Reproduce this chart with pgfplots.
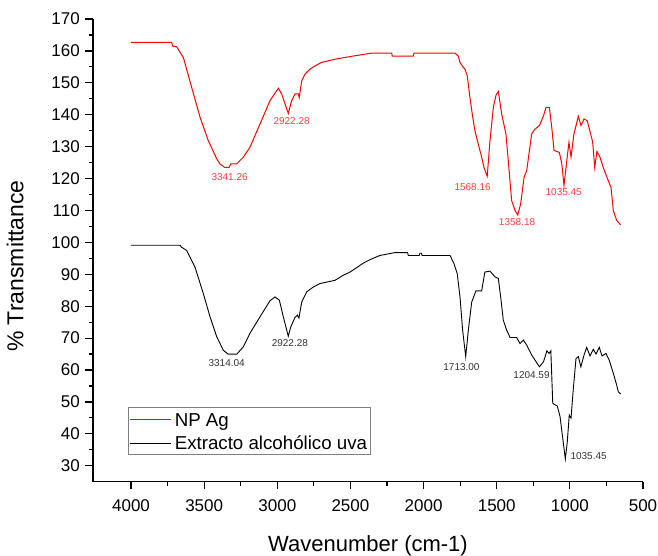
\documentclass[border=0pt]{standalone}
\usepackage{fontspec}
\setmainfont{Liberation Sans}
\usepackage{pgfplots}
\pgfplotsset{compat=1.18}
\definecolor{annred}{RGB}{255,60,60}
\definecolor{annblk}{RGB}{50,50,50}
\begin{document}
\begin{tikzpicture}
\begin{axis}[
  name=ax,
  scale only axis,
  width=550pt, height=462.7pt,
  x dir=reverse,
  xmin=500, xmax=4260,
  ymin=25, ymax=170,
  axis x line*=bottom,
  axis y line*=left,
  axis line style={line width=1.4pt, black},
  xtick={500,1000,...,4000},
  ytick={30,40,...,170},
  minor x tick num=1,
  minor y tick num=1,
  tick align=outside,
  major tick length=7.5pt,
  minor tick length=4.3pt,
  every tick/.style={line width=1.2pt, black},
  /pgf/number format/assume math mode=true,
  /pgf/number format/1000 sep={},
  tick label style={font=\fontsize{17}{20}\selectfont},
  xticklabel style={anchor=base, inner sep=0pt, yshift=-21.8pt},
  yticklabel style={anchor=east, inner sep=0pt, xshift=-5.5pt},
  xlabel={Wavenumber (cm-1)},
  ylabel={\% Transmittance},
  xlabel style={font=\fontsize{22}{26}\selectfont, at={(axis description cs:0.5,0)}, anchor=base, yshift=-69.8pt},
  ylabel style={font=\fontsize{23}{27}\selectfont, at={(axis description cs:-0.1267,0.466)}, anchor=base},
  legend style={at={(axis description cs:0.0642,0.162)}, anchor=north west,
    draw=gray, line width=0.8pt, inner sep=0.5pt,
    font=\fontsize{18.7}{22}\selectfont,
    nodes={inner ysep=0pt, inner xsep=3pt, text height=19pt, text depth=4.3pt},
    cells={anchor=west}},
  legend image code/.code={\draw[#1, line width=1pt] (0pt,-0.65pt) -- (41.6pt,-0.65pt);},
]
\addplot[red, line width=1pt] coordinates {
(4000,162.7) (3722,162.7) (3715,161.5) (3688,161.3) (3642,157.9) (3585,148.5)
(3528,139.2) (3472,131.9) (3414,126.2) (3392,124.6) (3360,123.5) (3330,123.5)
(3318,124.6) (3278,124.6) (3232,126.7) (3187,129.8) (3118,137.1) (3050,144.4)
(2993,148.3) (2970,146.5) (2925,140.4) (2902,144.4) (2879,146.5) (2856,146.5)
(2850,145.4) (2833,150.6) (2811,152.7) (2776,154.3) (2742,155.3) (2697,156.4)
(2606,157.4) (2480,158.4) (2355,159.3) (2218,159.3) (2214,158.4) (2070,158.4)
(2065,159.3) (1785,159.3) (1763,158.4) (1751,156.4) (1728,154.8) (1717,154.3)
(1701,152.1) (1683,145.4) (1664,139.2) (1649,135) (1626,130.8) (1603,126.7)
(1587,123.5) (1565,120.7) (1546,131.9) (1523,142.4) (1505,146.1) (1489,147.3)
(1466,140.2) (1437,134) (1421,125.6) (1398,113.1) (1375,110) (1356,108.6)
(1336,112.1) (1313,120.4) (1295,122.5) (1261,134) (1238,135.5) (1208,136.6)
(1180,139.7) (1163,142.3) (1140,142.3) (1124,136.1) (1108,128.8) (1072,128.2)
(1055,124.6) (1040,117.8) (1021,125.6) (1006,131.4) (992,126.7) (972,134)
(942,139.5) (924,136.6) (903,138.7) (881,138.1) (858,134) (844,131.4)
(830,123.5) (815,128.5) (794,126.7) (772,123.5) (738,119.4) (719,117.3)
(703,110) (680,106.9) (653,105.5)
};
\addlegendentry{NP Ag}
\addplot[black, line width=0.9pt] coordinates {
(4000,99.1) (3665,99.1) (3655,98.5) (3620,97.5) (3563,92.3) (3506,84)
(3460,76.7) (3414,70.4) (3369,66.2) (3337,65) (3276,65) (3232,67.3)
(3187,71.5) (3118,76.7) (3050,81.7) (3016,82.9) (2986,81.9) (2959,76.7)
(2925,70.6) (2908,73.5) (2879,76.5) (2863,77.2) (2852,76.3) (2833,81.3)
(2799,84.5) (2754,86) (2708,87.1) (2606,88.1) (2549,89.7) (2503,90.7)
(2457,92.1) (2412,93.5) (2366,94.6) (2298,95.9) (2195,96.8) (2110,96.8)
(2104,95.9) (2030,95.9) (2025,96.6) (2015,96.6) (2010,95.9) (1819,95.9)
(1792,93.3) (1770,90.2) (1751,82.9) (1733,72.5) (1712,64.2) (1694,72.5)
(1671,81.3) (1642,84.8) (1603,84.8) (1581,90.7) (1546,91) (1512,89.2)
(1489,88.7) (1473,82.9) (1455,75.6) (1432,72.5) (1409,70.2) (1364,70.2)
(1341,68.3) (1318,69.4) (1295,67.8) (1261,64.7) (1208,61) (1180,62.6)
(1157,66) (1142,65.2) (1130,66) (1117,49.6) (1101,49.1) (1086,48.75)
(1067,45.4) (1045,37.3) (1031,32.1) (1018,37.3) (1004,45.9) (992,44.9)
(977,53.75) (958,63.6) (942,64.2) (925,61) (903,64.7) (885,67.1)
(862,64.4) (840,66.5) (821,65) (799,67.1) (780,64.4) (753,65.2)
(731,63.1) (703,59) (680,55.3) (669,53.2) (653,52.5)
};
\addlegendentry{Extracto alcohólico uva}
\begin{scope}[every node/.style={font=\fontsize{10}{12}\selectfont, inner sep=0pt}]
\node[text=annred] at (axis cs:3326,120.5) {3341.26};
\node[text=annred] at (axis cs:2902,138.1) {2922.28};
\node[text=annred] at (axis cs:1665,117.4) {1568.16};
\node[text=annred] at (axis cs:1361,106.3) {1358.18};
\node[text=annred] at (axis cs:1042,115.7) {1035.45};
\node[text=annblk] at (axis cs:3346,62.3) {3314.04};
\node[text=annblk] at (axis cs:2914,68.6) {2922.28};
\node[text=annblk] at (axis cs:1741,60.8) {1713.00};
\node[text=annblk] at (axis cs:1262,58.5) {1204.59};
\node[text=annblk] at (axis cs:872,33.1) {1035.45};
\end{scope}
\end{axis}
\pgfresetboundingbox
\path[use as bounding box] ([xshift=-93pt,yshift=-73.3pt]ax.south west) rectangle ([xshift=15pt,yshift=19pt]ax.north east);
\end{tikzpicture}
\end{document}
